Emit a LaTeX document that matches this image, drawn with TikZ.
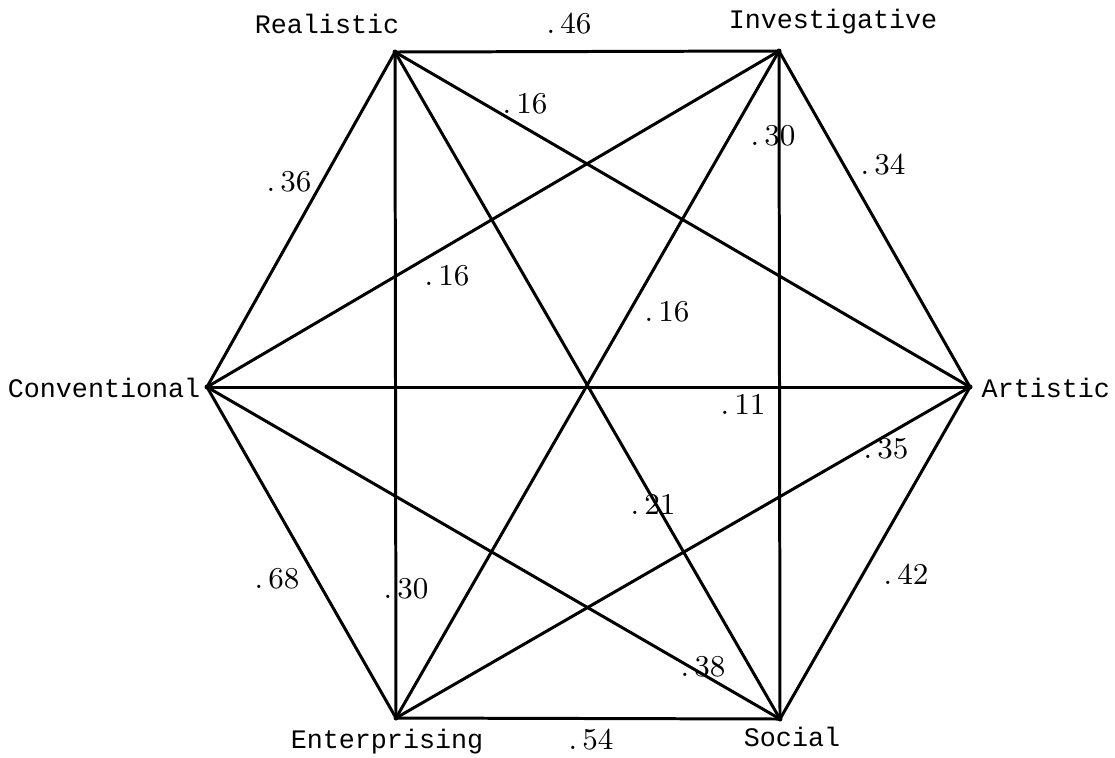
\documentclass[tikz,border=0pt]{standalone}
\usepackage{fontspec}
\newfontfamily\labfont{Liberation Mono}
\usetikzlibrary{positioning}

\begin{document}
\begin{tikzpicture}[x=0.01cm, y=-0.01cm,
  vlab/.style={font=\labfont\fontsize{7.6}{9}\selectfont, inner sep=0pt},
  num/.style={font=\fontsize{8.6}{10}\selectfont, inner sep=0pt},
  edge/.style={line width=0.85pt, line join=round}]
\useasboundingbox (0,0) rectangle (1115,757);
% ---------------- the six types ----------------
\coordinate (real) at (395,52);
\coordinate (inv)  at (779,51);
\coordinate (art)  at (970,387);
\coordinate (soc)  at (780,719);
\coordinate (ent)  at (396,718);
\coordinate (conv) at (207,387);
\node[vlab] (lreal) at (327,24) {Realistic};
\node[vlab] (linv)  at (833,22) {Investigative};
\node[vlab, anchor=west] (lart) at (981,388) {Artistic};
\node[vlab] (lsoc)  at (792,737) {Social};
\node[vlab] (lent)  at (387,742) {Enterprising};
\node[vlab, anchor=east] (lconv) at (201,388) {Conventional};
% ---------------- all fifteen links ----------------
\foreach \a/\b in {real/inv, inv/art, art/soc, soc/ent, ent/conv, conv/real,
                   real/art, real/soc, real/ent, inv/soc, inv/ent, inv/conv,
                   art/conv, art/ent, soc/conv}
  \draw[edge] (\a) -- (\b);
\foreach \p in {real,inv,art,soc,ent,conv}
  \fill (\p) circle (2.5);
% ---------------- correlations ----------------
\node[num] (n46)  at (569,24)  {.\,46};
\node[num] (n16a) at (525,104) {.\,16};
\node[num] (n30a) at (773,136) {.\,30};
\node[num] (n34)  at (883,165) {.\,34};
\node[num] (n36)  at (289,182) {.\,36};
\node[num] (n16b) at (447,276) {.\,16};
\node[num] (n16c) at (667,312) {.\,16};
\node[num] (n11)  at (743,404) {.\,11};
\node[num] (n35)  at (886,449) {.\,35};
\node[num] (n21)  at (653,504) {.\,21};
\node[num] (n42)  at (906,574) {.\,42};
\node[num] (n68)  at (277,579) {.\,68};
\node[num] (n30b) at (406,589) {.\,30};
\node[num] (n38)  at (703,667) {.\,38};
\node[num] (n54)  at (591,740) {.\,54};
\end{tikzpicture}
\end{document}
